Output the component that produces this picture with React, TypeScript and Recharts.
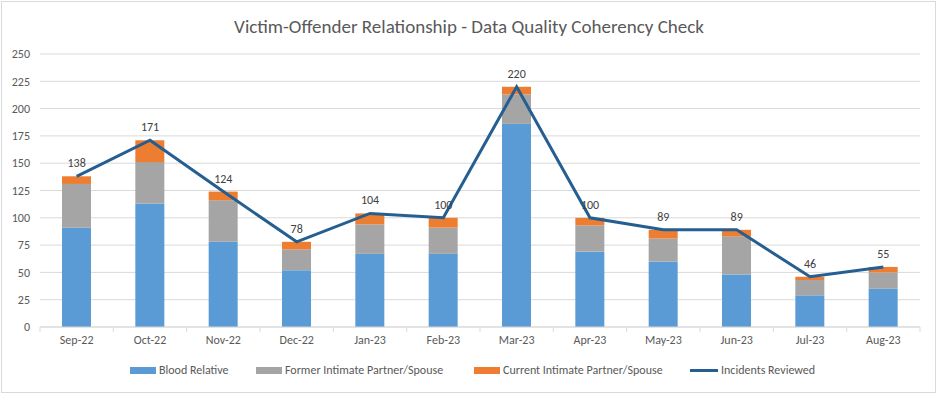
import React from 'react';
import {
  ComposedChart,
  Bar,
  Line,
  XAxis,
  YAxis,
  CartesianGrid,
  LabelList,
} from 'recharts';

const months = ['Sep-22', 'Oct-22', 'Nov-22', 'Dec-22', 'Jan-23', 'Feb-23', 'Mar-23', 'Apr-23', 'May-23', 'Jun-23', 'Jul-23', 'Aug-23'];
const bloodRelative = [91, 113, 78, 52, 67, 67, 186, 69, 60, 48, 29, 35];
const formerPartner = [40, 38, 38, 19, 27, 24, 27, 24, 21, 35, 14, 15];
const currentPartner = [7, 20, 8, 7, 10, 9, 7, 7, 8, 6, 3, 5];
const incidentsReviewed = [138, 171, 124, 78, 104, 100, 220, 100, 89, 89, 46, 55];
const yTicks = [0, 25, 50, 75, 100, 125, 150, 175, 200, 225, 250];

const data = months.map((m, i) => ({
  month: m,
  blood: bloodRelative[i],
  former: formerPartner[i],
  current: currentPartner[i],
  total: incidentsReviewed[i],
}));

const FONT = "Carlito, 'Liberation Sans Narrow', 'Liberation Sans', sans-serif";
const TEXT = '#595959';
const W = 938;
const H = 395;
const MARGIN = { top: 54, right: 18, bottom: 38, left: 7 };
const Y_W = 33;
const BAND = (W - MARGIN.left - MARGIN.right - Y_W) / months.length;

const MonthTick = (props: any) => {
  const { x, y, payload, index } = props;
  const axisY = MARGIN.top + (H - MARGIN.top - MARGIN.bottom - 30);
  return (
    <g>
      <line x1={x - BAND / 2} x2={x - BAND / 2} y1={axisY} y2={axisY + 5} stroke="#d9d9d9" />
      {index === months.length - 1 && (
        <line x1={x + BAND / 2} x2={x + BAND / 2} y1={axisY} y2={axisY + 5} stroke="#d9d9d9" />
      )}
      <text x={x} y={y} dy="0.71em" textAnchor="middle" fill={TEXT} fontSize={12} fontFamily={FONT}>
        {payload.value}
      </text>
    </g>
  );
};

const legendItems = [
  { label: 'Blood Relative', color: '#5B9BD5', x: 130, line: false },
  { label: 'Former Intimate Partner/Spouse', color: '#A5A5A5', x: 256, line: false },
  { label: 'Current Intimate Partner/Spouse', color: '#ED7D31', x: 474, line: false },
  { label: 'Incidents Reviewed', color: '#255E91', x: 690, line: true },
];

export default function App() {
  return (
    <div style={{ position: 'absolute', left: 0, top: 0, width: W, height: H, background: '#fff' }}>
      <div
        style={{
          position: 'absolute',
          left: 1,
          top: 1,
          width: 933,
          height: 390,
          border: '1px solid #d9d9d9',
        }}
      />
      <div
        style={{
          position: 'absolute',
          left: 0,
          width: W,
          top: 16,
          textAlign: 'center',
          fontFamily: FONT,
          fontSize: 19,
          color: TEXT,
          lineHeight: '22px',
        }}
      >
        Victim-Offender Relationship - Data Quality Coherency Check
      </div>
      <div style={{ position: 'absolute', left: 0, top: 0 }}>
        <ComposedChart width={W} height={H} data={data} margin={MARGIN}>
          <CartesianGrid vertical={false} stroke="#d9d9d9" />
          <XAxis
            dataKey="month"
            axisLine={{ stroke: '#d9d9d9' }}
            tickLine={false}
            tick={<MonthTick />}
            interval={0}
            height={30}
          />
          <YAxis
            domain={[0, 250]}
            ticks={yTicks}
            axisLine={false}
            tickLine={false}
            width={Y_W}
            tickMargin={4}
            tick={{ fill: TEXT, fontSize: 12, fontFamily: FONT }}
          />
          <Bar dataKey="blood" stackId="a" fill="#5B9BD5" barSize={29} isAnimationActive={false} />
          <Bar dataKey="former" stackId="a" fill="#A5A5A5" barSize={29} isAnimationActive={false} />
          <Bar dataKey="current" stackId="a" fill="#ED7D31" barSize={29} isAnimationActive={false} />
          <Line
            type="linear"
            dataKey="total"
            stroke="#255E91"
            strokeWidth={3}
            dot={false}
            isAnimationActive={false}
          >
            <LabelList dataKey="total" position="top" offset={9} fill="#404040" fontSize={12} fontFamily={FONT} />
          </Line>
        </ComposedChart>
      </div>
      {legendItems.map((it) => (
        <div
          key={it.label}
          style={{
            position: 'absolute',
            left: it.x,
            top: 362,
            height: 16,
            display: 'flex',
            alignItems: 'center',
            whiteSpace: 'nowrap',
            fontFamily: FONT,
            fontSize: 12,
            color: TEXT,
          }}
        >
          <span
            style={{
              display: 'inline-block',
              width: it.line ? 28 : 26,
              height: it.line ? 3 : 7,
              background: it.color,
              marginRight: 3,
            }}
          />
          {it.label}
        </div>
      ))}
    </div>
  );
}
